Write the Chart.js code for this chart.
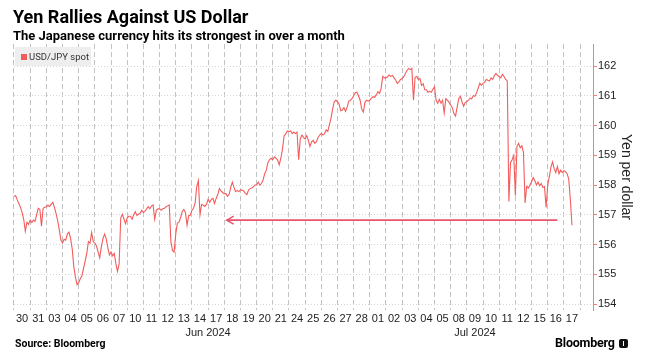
<!DOCTYPE html>
<html>
<head>
<meta charset="utf-8">
<script src="https://cdn.jsdelivr.net/npm/chart.js"></script>
<style>
  body { margin: 0; background: #fff; }
  #wrap { position: relative; width: 646px; height: 362px; font-family: Roboto, "Liberation Sans", sans-serif; color: #000; }
  #chart { position: absolute; left: 0; top: 0; }
  .title { position: absolute; left: 13px; top: 6px; font-size: 18px; font-weight: 700; white-space: nowrap; }
  .sub { position: absolute; left: 13px; top: 28px; font-size: 13px; font-weight: 700; white-space: nowrap; }
  .legend { position: absolute; left: 15px; top: 47px; width: 76px; height: 19px; background: #eeeeee;
            font-size: 9.5px; color: #333; line-height: 19px; white-space: nowrap; }
  .legend i { display: inline-block; width: 6px; height: 6px; background: #f25c5c; margin: 0 2px 0 6px; vertical-align: 0; }
  .source { position: absolute; left: 15px; top: 337px; font-size: 10.5px; font-weight: 700; }
  .logo { position: absolute; left: 555px; top: 335px; font-size: 12.5px; font-weight: 700; letter-spacing: -0.2px; }
  .logo b { display: inline-block; width: 9px; height: 9px; background: #111; border-radius: 2px; margin-left: 4px; vertical-align: -1px; position: relative; }
  .logo b::after { content: ""; position: absolute; left: 4px; top: 2px; width: 1px; height: 5px; background: #fff; }
</style>
</head>
<body>
<div id="wrap">
  <canvas id="chart" width="646" height="362"></canvas>
  <div class="title">Yen Rallies Against US Dollar</div>
  <div class="sub">The Japanese currency hits its strongest in over a month</div>
  <div class="legend"><i></i>USD/JPY spot</div>
  <div class="source">Source: Bloomberg</div>
  <div class="logo">Bloomberg<b></b></div>
</div>
<script>
  // trading days, 30 May - 17 Jul 2024
  const days = ['30', '31', '03', '04', '05', '06', '07', '10', '11', '12', '13', '14', '17', '18', '19', '20', '21',
    '24', '25', '26', '27', '28', '01', '02', '03', '04', '05', '08', '09', '10', '11', '12', '15', '16', '17'];
  const months = ['Jun 2024', 'Jul 2024'];
  const monthSpans = [[2, 22], [22, 35]]; // day index ranges
  const yTicks = [154, 155, 156, 157, 158, 159, 160, 161, 162];

  // USD/JPY spot, ten readings per trading day (last day incomplete)
  const spotByDay = [
    [157.62, 157.64, 157.50, 157.38, 157.25, 157.08, 156.85, 156.45, 156.75, 156.68],
    [156.82, 156.74, 156.82, 156.78, 157.00, 157.22, 157.18, 156.62, 157.22, 157.25],
    [157.27, 157.32, 157.28, 157.36, 157.42, 157.25, 157.05, 156.80, 156.50, 156.15],
    [156.05, 156.18, 156.15, 156.36, 156.42, 156.20, 155.85, 155.25, 154.90, 154.65],
    [154.72, 154.85, 154.95, 155.20, 155.45, 155.70, 156.10, 156.05, 156.40, 156.10],
    [156.05, 155.95, 155.75, 155.55, 155.92, 156.20, 156.35, 156.20, 155.90, 155.65],
    [155.75, 155.62, 155.70, 155.35, 155.10, 155.35, 156.90, 157.02, 156.85, 156.70],
    [156.90, 156.95, 156.95, 156.85, 157.00, 157.10, 156.98, 157.02, 157.05, 157.15],
    [157.08, 157.12, 157.20, 157.27, 157.20, 157.30, 157.33, 156.85, 157.15, 157.20],
    [157.20, 157.15, 157.20, 157.22, 157.27, 157.30, 157.33, 156.10, 155.80, 155.75],
    [156.35, 156.72, 156.75, 156.90, 157.10, 157.18, 157.08, 156.65, 156.97, 156.98],
    [157.15, 157.22, 157.40, 157.95, 158.15, 157.00, 157.35, 157.32, 157.28, 157.35],
    [157.52, 157.42, 157.52, 157.55, 157.38, 157.55, 157.68, 157.88, 157.80, 157.75],
    [157.70, 157.72, 157.62, 157.68, 157.92, 158.10, 157.92, 157.78, 157.82, 157.78],
    [157.83, 157.83, 157.80, 157.72, 157.68, 157.83, 157.88, 157.90, 157.94, 158.00],
    [158.00, 158.10, 158.00, 158.05, 158.17, 158.38, 158.50, 158.75, 158.85, 158.90],
    [158.85, 158.95, 158.90, 158.84, 158.68, 158.90, 159.20, 159.65, 159.72, 159.82],
    [159.80, 159.82, 159.73, 159.78, 159.73, 159.78, 158.85, 159.55, 159.68, 159.60],
    [159.55, 159.66, 159.50, 159.30, 159.45, 159.50, 159.40, 159.46, 159.60, 159.68],
    [159.73, 159.68, 159.73, 159.85, 159.80, 160.02, 160.25, 160.55, 160.80, 160.85],
    [160.80, 160.72, 160.50, 160.52, 160.60, 160.48, 160.62, 160.82, 160.85, 160.90],
    [161.00, 161.10, 161.12, 161.00, 160.85, 160.55, 160.45, 160.78, 160.85, 160.82],
    [160.85, 160.92, 160.97, 160.95, 161.03, 161.14, 161.08, 161.25, 161.65, 161.60],
    [161.60, 161.64, 161.70, 161.65, 161.68, 161.60, 161.53, 161.42, 161.47, 161.55],
    [161.58, 161.64, 161.75, 161.85, 161.92, 161.88, 161.92, 160.85, 161.62, 161.65],
    [161.55, 161.58, 161.35, 161.40, 161.20, 161.20, 161.12, 161.15, 161.12, 161.22],
    [161.30, 160.85, 160.75, 160.88, 160.75, 160.85, 160.42, 160.90, 160.85, 160.78],
    [160.68, 160.60, 160.40, 160.32, 160.62, 160.90, 160.98, 160.80, 160.65, 160.78],
    [160.80, 160.85, 160.92, 160.90, 161.00, 160.98, 161.10, 161.25, 161.42, 161.35],
    [161.42, 161.46, 161.55, 161.52, 161.50, 161.60, 161.55, 161.68, 161.75, 161.68],
    [161.65, 161.60, 161.72, 161.65, 161.55, 161.50, 157.45, 158.75, 158.85, 159.00],
    [157.65, 159.30, 159.40, 159.25, 159.32, 159.10, 157.40, 157.95, 157.90, 158.00],
    [158.10, 158.25, 158.15, 158.00, 158.10, 157.98, 158.05, 157.92, 157.95, 157.25],
    [158.00, 158.28, 158.60, 158.78, 158.55, 158.42, 158.62, 158.38, 158.50, 158.42],
    [158.48, 158.45, 158.38, 158.20, 157.50, 156.65]
  ];

  // arrow annotation (day index from/to, level)
  const arrowFrom = 33.6;
  const arrowTo = 13.15;
  const arrowLevel = 156.82;

  const xMax = 35.8;
  const lineRed = 'rgb(242, 92, 92)';
  const arrowRed = '#e9546b';
  const tickFont = { family: 'Liberation Sans', size: 11 };

  const points = [];
  spotByDay.forEach((vals, d) => {
    vals.forEach((v, k) => points.push({ x: d + k / 10, y: v }));
  });

  const arrowHead = {
    id: 'arrowHead',
    afterDatasetsDraw(chart) {
      const { ctx, scales: { x, y } } = chart;
      const px = x.getPixelForValue(arrowTo);
      const py = y.getPixelForValue(arrowLevel);
      ctx.save();
      ctx.strokeStyle = arrowRed;
      ctx.lineWidth = 1.5;
      ctx.beginPath();
      ctx.moveTo(px + 7, py - 4);
      ctx.lineTo(px, py);
      ctx.lineTo(px + 7, py + 4);
      ctx.stroke();
      ctx.restore();
    }
  };

  new Chart(document.getElementById('chart'), {
    type: 'line',
    data: {
      datasets: [
        { data: points, borderColor: lineRed, borderWidth: 1.1, pointRadius: 0, tension: 0 },
        { data: [{ x: arrowFrom, y: arrowLevel }, { x: arrowTo, y: arrowLevel }],
          borderColor: arrowRed, borderWidth: 1.8, pointRadius: 0 }
      ]
    },
    options: {
      responsive: false,
      animation: false,
      devicePixelRatio: 1,
      layout: { padding: { left: 14, right: 8, top: 44, bottom: 20 } },
      plugins: { legend: { display: false }, tooltip: { enabled: false } },
      scales: {
        x: {
          type: 'linear', min: 0, max: xMax,
          afterBuildTicks: s => { s.ticks = days.map((d, i) => ({ value: i + 0.5 })); },
          afterFit: s => { s.height = 15; },
          ticks: { autoSkip: false, maxRotation: 0, padding: 2, color: '#222', font: tickFont,
                   callback: (v, i) => days[i] },
          grid: { offset: true, color: '#c2c2c2', drawTicks: false },
          border: { display: false, dash: [5, 3] }
        },
        x2: {
          type: 'linear', position: 'bottom', weight: 1, min: 0, max: xMax,
          afterBuildTicks: s => { s.ticks = monthSpans.map(m => ({ value: (m[0] + m[1]) / 2 })); },
          afterFit: s => { s.height = 17; },
          ticks: { autoSkip: false, maxRotation: 0, padding: 1, color: '#222', font: tickFont,
                   callback: (v, i) => months[i] },
          grid: { display: false, drawTicks: false },
          border: { display: false }
        },
        y: {
          position: 'right', min: 153.8, max: 162.74,
          afterBuildTicks: s => { s.ticks = yTicks.map(v => ({ value: v })); },
          afterFit: s => { s.width = 45; },
          ticks: { padding: 1, color: '#222', font: tickFont },
          grid: { color: '#d6d6d6', tickColor: '#f47e7e', tickLength: 4, tickBorderDash: [] },
          border: { color: '#f47e7e', dash: [1, 2] },
          title: { display: true, text: 'Yen per dollar', color: '#222',
                   font: { family: 'Liberation Sans', size: 14 }, padding: { top: 4, bottom: 0 } }
        }
      }
    },
    plugins: [arrowHead]
  });
</script>
</body>
</html>
